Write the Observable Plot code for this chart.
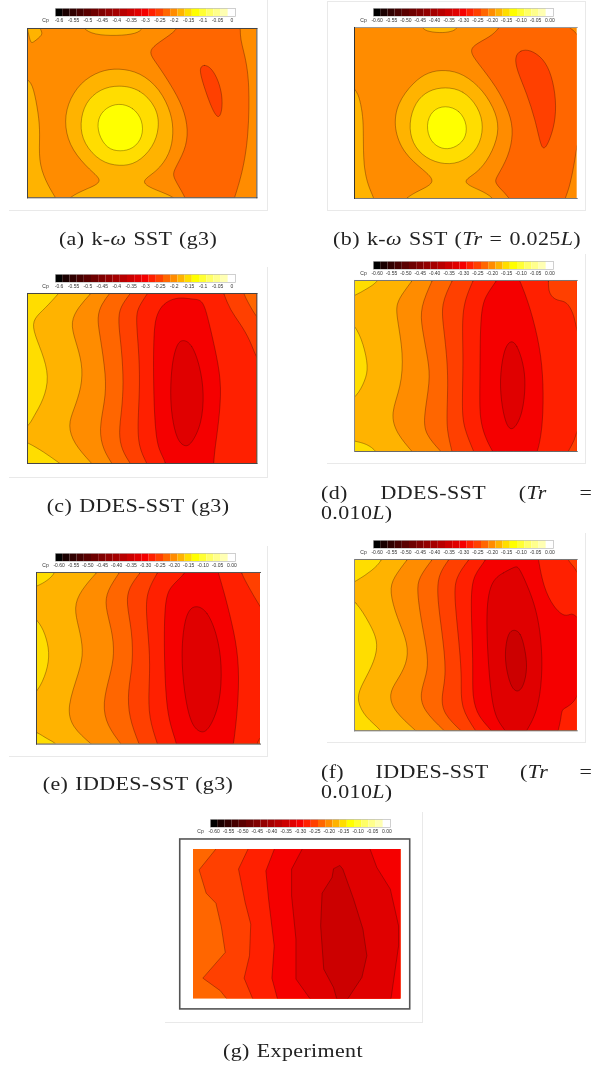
<!DOCTYPE html>
<html><head><meta charset="utf-8">
<script src="https://cdn.jsdelivr.net/npm/d3@7"></script>
<script src="https://cdn.jsdelivr.net/npm/@observablehq/plot@0.6"></script>
<style>
html,body{margin:0;padding:0;background:#fff}
#page{position:relative;width:597px;height:1066px;overflow:hidden}
.box{position:absolute;box-sizing:border-box;border:0 solid #e9e9e9}
.cap{position:absolute;font-family:"Liberation Serif",serif;font-size:18px;letter-spacing:.3px;word-spacing:1px;color:#222;white-space:nowrap;line-height:20px;filter:blur(.3px)}
.just{display:flex;justify-content:space-between}
svg{filter:blur(.3px)}
</style></head><body><div id="page"></div>
<script>
// Cp levels of the colour bar, and their colours
const levels=[-0.6,-0.575,-0.55,-0.525,-0.5,-0.475,-0.45,-0.425,-0.4,-0.375,-0.35,-0.325,-0.3,-0.275,-0.25,-0.225,-0.2,-0.175,-0.15,-0.125,-0.1,-0.075,-0.05,-0.025,0];
const palette=["#000000","#1a0000","#300000","#450000","#5a0000","#6e0000","#800000","#930000","#a50000","#b80000","#cc0000","#e00000","#f50000","#ff2000","#ff4000","#ff6600","#ff8c00","#ffb300","#ffdd00","#ffff00","#ffff33","#ffff66","#ffff8c","#ffffb3","#ffffff"];
const ticksShort=["-0.6","-0.55","-0.5","-0.45","-0.4","-0.35","-0.3","-0.25","-0.2","-0.15","-0.1","-0.05","0"];
const ticksLong=["-0.60","-0.55","-0.50","-0.45","-0.40","-0.35","-0.30","-0.25","-0.20","-0.15","-0.10","-0.05","0.00"];

// contours: [Cp, [[x%,y%],...]] — x and y are percent of the plotted surface; points outside 0..100 close a region beyond the edge
const ext=(a,b)=>[2*a[0]-b[0],2*a[1]-b[1]];
const right=pts=>[ext(pts[0],pts[1]),...pts,ext(pts[pts.length-1],pts[pts.length-2]),[115,125],[115,-25]];

const panelA=[
[-0.225,[[66.5,-6],[65.8,0],[60.8,5.1],[54.2,11],[53.2,15],[56.4,20.8],[62.2,32.6],[68,46.5],[70.2,60.3],[68.8,72],[63.7,83.9],[63.3,87.8],[68.8,99.2],[70,106],[89,106],[90.3,99.6],[91.3,95.7],[94.2,82],[96.4,62.2],[96.8,32.7],[95,16.4],[92,3.1],[94,-6]]],
[-0.25,[[75.3,22.8],[77,21.3],[79.7,22.8],[82.6,28.7],[84.7,37.6],[85,46.5],[84,52],[82.6,52.4],[80.4,47.4],[77.5,36.6],[75.3,26.8]]],
[-0.175,[[15,106],[17.9,99.6],[25.9,94.7],[33.5,90.4],[27.3,83.9],[19.3,72],[16,58.3],[17.2,44.5],[23,31.7],[31.7,24.8],[39.7,23.4],[49.1,25.8],[57.8,35.6],[62.9,50.4],[63.7,62.2],[62.2,74],[56.4,84.8],[48.3,90.7],[56.4,95.7],[64.4,99.6],[68,106]]],
[-0.15,[[39.7,33.3],[49.1,35.6],[56.4,46.5],[57.6,58.3],[54.9,70.1],[47.7,79.9],[40.1,81.5],[31.7,78.9],[24.4,68.1],[22.7,56.3],[25.1,43.5],[31.7,35.6]]],
[-0.125,[[39.7,43.9],[46.2,46.5],[50.3,54.3],[50.3,64.2],[46.2,71.1],[40.4,72.8],[34.6,71.1],[30.7,62.2],[30.5,53.3],[33.9,46.9]]],
[-0.175,[[-6,25],[0.5,30],[2.6,34.6],[4.8,50.4],[5.5,62.2],[4.8,78],[7.7,89.8],[12,99.6],[15,106],[-6,106]]],
[-0.175,[[4,-6],[5.5,0.2],[6.7,3.1],[5,5.5],[2.6,8.1],[1.5,8.7],[0.7,5],[-1,-6]]],
[-0.175,[[22,-6],[24.1,0],[28.8,3.7],[39,4.4],[47.7,3.1],[50.3,0],[52,-6]]]
];
const panelB=[
[-0.225,[[67,-6],[65.1,0.5],[60.9,5.5],[53.4,10.3],[51.9,14.2],[54.9,20],[63.9,34.7],[69.9,50.3],[71.4,62],[69.2,75.6],[63.9,87.3],[62.9,90.3],[65.4,94.2],[69.5,99.4],[72,106],[93,106],[94.9,99],[96.8,92.2],[99,77.6],[100.5,63],[106,50],[106,-6]]],
[-0.25,[[71.9,17.2],[74.4,13.2],[78.9,12.9],[84.9,18.1],[88.6,27.9],[90.6,42.5],[90.1,56.1],[87.1,67.8],[84.9,71.7],[83.4,67.8],[81.2,54.2],[77.4,38.6],[72.9,25]]],
[-0.175,[[20,106],[23,99.4],[29.5,95.1],[37,90.3],[31,83.4],[22,73.7],[17.5,59],[19,44.4],[26.5,31.8],[33.2,25.9],[40.7,24.6],[48.9,26.9],[57.9,36.6],[63.9,50.3],[65,62],[60.9,75.6],[55,85.4],[47.3,90.3],[56.5,95.1],[62.4,99.4],[65,106]]],
[-0.15,[[40.7,34.7],[48.9,36.6],[55.7,46.4],[58.2,58.1],[55.7,70.8],[48.9,78.6],[40.7,80.5],[31.7,76.6],[25.8,67.8],[24.3,56.1],[27.2,43.5],[33.2,36.6]]],
[-0.125,[[40.7,45.4],[47.4,48.3],[50.8,57.1],[49.7,65.9],[44.5,70.8],[39.2,71.3],[34,66.9],[32,57.1],[34.7,48.3]]],
[-0.175,[[-6,30],[0.7,35.7],[2.5,42.5],[3.8,52],[4,62],[4,81.5],[6.3,93.2],[8.5,99],[10,106],[-6,106]]],
[-0.175,[[28,-6],[30.2,0.6],[33.2,2.5],[40,3.3],[44.5,2],[46,0.6],[48,-6]]]
];
const panelC=[
[-0.175,right([[13.5,0],[7.7,8.8],[2.6,14.7],[2.3,21.6],[6.3,34.3],[9.6,49],[7,62.7],[2.6,72.5],[0.6,78],[-5,83],[-5,85],[0.3,87.8],[7,93.1],[13.5,99.4]])],
[-0.2,right([[27.3,0.4],[22.3,7.8],[18.6,16.7],[20.8,27.5],[24,41.2],[23.7,54.9],[20.1,68.6],[17.6,77.5],[20.1,88.2],[27.3,99]])],
[-0.225,right([[35.8,0],[32.4,5.9],[30.2,13.7],[31.7,25.5],[34.3,49],[33.9,62.7],[31,80.4],[33.1,92.2],[36.8,100]])],
[-0.25,right([[44.8,0],[40.4,7.8],[39.4,15.7],[41.1,33.3],[41.9,52.9],[41.1,68.6],[39.7,82.4],[41.1,92.2],[44.8,100]])],
[-0.275,right([[52.3,0],[48.4,7.8],[47.2,13.7],[48.4,31.4],[49.1,52.9],[48,76.5],[48.4,90.2],[52,100]])],
[-0.3,[[60,106],[60.8,100],[57.1,92.2],[55.7,80.4],[54.9,56.9],[54.9,21.6],[56.4,11.8],[59.3,5.9],[63.7,2.9],[68,2.4],[72.4,3.5],[76.5,3.5],[78.9,15.7],[82.6,37.3],[84.7,54.9],[83.3,76.5],[81.8,90.2],[81.1,100],[81,106]]],
[-0.325,[[67.7,26.9],[71.7,29.4],[75.3,43.1],[77,58.8],[76,76.5],[71.7,88.2],[68.8,90.6],[65.1,86.3],[62.9,72.5],[62.2,58.8],[62.9,41.2],[65.1,29.4]]],
[-0.25,[[83.5,-8],[85.5,0],[88.4,9.8],[92.7,17.6],[97.1,27.5],[100,39.2],[106,50],[120,50],[120,-8]]],
[-0.225,[[92,-8],[94.2,0],[96.4,5.9],[99.7,13.7],[106,24],[120,24],[120,-8]]]
];
const panelD=[
[-0.15,[[12,-6],[11.1,0.4],[5.5,4.9],[0.3,8.8],[-6,12],[-6,-6]]],
[-0.15,[[-6,20],[0.3,25.7],[4,37],[6.3,50.7],[4.8,58.5],[1,68.2],[-6,74]]],
[-0.15,[[-6,92],[0.3,94],[5.5,95.5],[10,99.8],[12,106],[-6,106]]],
[-0.2,right([[25.7,0.4],[22,6.8],[18.7,13.6],[19,21.4],[22,42.9],[21,62.4],[16,78],[19,89.7],[25.7,99.8]])],
[-0.225,right([[34.7,0.6],[29.5,15.8],[30.2,27.5],[33.2,47],[34,58.7],[31,80.1],[31.7,89.9],[38.5,99.6]])],
[-0.25,right([[43.7,0.6],[38.8,13.8],[40,27.5],[42.2,52.8],[41.5,76.2],[41.5,87.9],[43.7,99.6]])],
[-0.275,right([[53.1,0.6],[47.9,15.8],[49,43.1],[48.2,74.3],[49,86],[53.4,99.6]])],
[-0.3,[[66,-6],[63.9,0.4],[58.7,8.8],[56.4,19.7],[56.4,58.7],[56,80.1],[58.7,91.8],[61.7,99.4],[65,106],[80,106],[82.6,99.4],[84.6,83.8],[84.9,60.4],[83.4,39],[78.9,15.6],[74.4,0.4],[72,-6]]],
[-0.325,[[69.9,34.7],[72.9,37],[75.9,48.7],[76.9,60.4],[75.6,78],[71.4,88.1],[68.4,85.8],[66.2,74.1],[65.1,58.5],[66.9,40.9]]],
[-0.25,[[87,-6],[87.1,0.4],[87.1,7.8],[90.9,12.1],[95.4,11.7],[99.1,21.4],[100,33.1],[106,40],[106,-6]]],
[-0.25,[[106,80],[100,85.8],[99,93.6],[95.8,99.8],[94,106],[106,106]]]
];
const panelE=[
[-0.15,[[9,-6],[8.5,0.4],[4.7,4.9],[0.6,7.8],[-6,11],[-6,-6]]],
[-0.15,[[-6,22],[0.6,27.2],[4,36],[5.9,46.6],[4.8,57.3],[0.6,69.9],[-6,76]]],
[-0.15,[[-6,90],[0.6,93.2],[4.8,97.1],[9.2,99.6],[11,106],[-6,106]]],
[-0.2,right([[26.6,0.4],[19.6,10.7],[16.6,20.4],[18.9,32],[21.1,45.6],[19.3,57.3],[13.4,78.6],[15.9,90.3],[24.1,99.6]])],
[-0.225,right([[36.8,0.4],[31.5,10.7],[30.5,19.4],[33.8,34],[34.8,47.6],[33,59.2],[29.3,76.7],[31.5,89.3],[37.5,99.6]])],
[-0.25,right([[46.1,0.4],[41.2,8.7],[40,17.5],[42.7,34],[43.1,53.4],[40.7,68.9],[41.2,84.5],[45.7,99.6]])],
[-0.275,right([[53.9,0.4],[49.4,10.7],[48.7,22.3],[50.9,49.5],[50.1,68.9],[50.1,84.5],[53.9,99.6]])],
[-0.3,[[68,-6],[66.5,1],[59.8,7.8],[57,16.5],[57,53.4],[58.3,84.5],[62.4,98],[63,106],[87,106],[88.1,99.6],[90.3,73.3],[90.3,49.5],[87.4,30],[83.6,10.7],[81.3,1],[80,-6]]],
[-0.325,[[71.4,19],[76.3,22.3],[80.6,35.9],[82.9,53.4],[82.1,76.7],[76.9,92.2],[73.2,93.8],[68.7,88.3],[65.8,68.9],[64.6,47.6],[65.8,30],[68,21.4]]],
[-0.25,[[90,-6],[91.4,0.4],[94.8,8.7],[100,20.4],[106,32],[106,-6]]],
[-0.25,[[106,92],[100,95],[98.5,99.6],[97,106],[106,106]]]
];
const panelF=[
[-0.15,[[13,-6],[12.7,0.4],[7.8,6.6],[1,12.5],[-6,17],[-6,-6]]],
[-0.15,[[-6,19],[0.7,24.1],[7,37.7],[11.2,49.4],[7.8,63],[2.5,74.7],[1,82.5],[4.8,92.2],[12.3,99.6],[14,106],[-6,106]]],
[-0.2,right([[23.5,0.4],[17.5,10.5],[15.6,18.3],[19,33.9],[24.3,49.4],[23.5,61.1],[19,70.8],[15.3,78.6],[17.5,88.3],[27.2,99.6]])],
[-0.225,right([[34.7,0.4],[28.8,10.5],[28,18.3],[30.2,37.7],[33.2,57.2],[32.5,66.9],[29.2,78.6],[31,88.3],[40,99.6]])],
[-0.25,right([[42.2,0.4],[37.7,8.6],[37,20.2],[39.2,41.6],[41.5,66.9],[38.8,80.5],[40,90.3],[47.5,99.6]])],
[-0.275,right([[51.2,0.4],[45.2,10.5],[44.8,22.2],[47.2,51.4],[48.2,70.8],[47.5,86.4],[54.2,99.6]])],
[-0.3,[[60,-6],[59.4,0.4],[53.4,8.6],[52,22.2],[53.4,61.1],[52.7,80.5],[55.7,92.2],[61.7,99.6],[64,106],[90,106],[91.6,99.6],[92.8,92.2],[93.1,87.4],[95.4,86.4],[99.1,82.5],[100,78.6],[106,70],[106,40],[100,33.9],[97.6,30.9],[94.6,33.9],[89.4,28],[84.9,16.3],[82.6,0.4],[82,-6]]],
[-0.25,[[95,-6],[95.4,0.4],[99.1,4.7],[100,8.6],[106,14],[106,-6]]],
[-0.325,[[72.2,4.1],[66.9,7.6],[61,12.5],[58.7,31.9],[61,80.5],[64,94.2],[67.7,99.4],[70,106],[75,106],[77.4,99.4],[82.6,88.3],[84.9,61.1],[82.6,31.9],[77.4,14.4],[73.7,4.1]]],
[-0.35,[[71.6,40.7],[74.6,42.6],[76.4,51.4],[77.8,63],[75.9,74.7],[72.9,78],[69.9,73.7],[67.7,61.1],[67.7,51.4],[69.1,42.6]]]
];
const panelG=[
[-0.25,right([[10.6,0],[2.7,13.6],[6.1,29.2],[10.8,35.9],[13.4,51.4],[15.3,68.8],[4.5,86],[12.9,94.4],[16.1,100]])],
[-0.275,right([[26.2,0],[21.7,13.1],[24.9,35.4],[27.6,49.9],[27,71],[24.4,86],[28.6,100]])],
[-0.3,right([[38.9,0],[34.9,14.3],[36.2,33.2],[38.9,64.4],[37.8,86],[40.5,100]])],
[-0.325,[[52.3,-6],[52.3,0],[47.3,13.1],[47.3,31],[49.4,59.9],[49.4,86.6],[56.3,100],[56.3,106],[95.2,106],[95.2,100],[98.9,64.4],[98.9,51],[94.9,26.5],[88.4,12],[85.2,0],[85.2,-6]]],
[-0.35,[[70.7,10.9],[72,13.1],[77.2,33.2],[81.7,53.2],[83.6,71],[81.2,85.5],[74.3,100],[74.3,106],[69.1,106],[69.1,100],[67.5,92.2],[62.8,80],[61.3,51],[62,29.2],[66.8,18.7],[67.5,13.1]]]
];

// page layout (separate from the data)
const smooth="basis-closed";
const panels=[
 {regions:panelA,base:-0.2,f:[27.3,28,256.7,197.3],bar:[55.3,7.7],ticks:ticksShort,box:[9,-1,268,211,"rb"],edges:{top:"#444",bottom:"#444",left:"#444",right:"#444"},curve:smooth},
 {regions:panelB,base:-0.2,f:[354.3,27.3,577,198.3],bar:[373,7.7],ticks:ticksLong,box:[327,1,585.7,211,"tlrb"],edges:{top:"#999",bottom:"#777",left:"#333"},curve:smooth},
 {regions:panelC,base:-0.15,f:[27.3,293.3,256.7,463.3],bar:[55.3,274],ticks:ticksShort,box:[9,267,268,477.7,"rb"],edges:{top:"#444",bottom:"#444",left:"#444",right:"#444"},curve:smooth},
 {regions:panelD,base:-0.175,f:[354.3,280,577,451],bar:[373,260.7],ticks:ticksLong,box:[327,254,585.7,464,"rb"],edges:{top:"#777",bottom:"#666",left:"#888"},dash:"7 1",curve:smooth},
 {regions:panelE,base:-0.175,f:[36,571.7,260,743.3],bar:[55.3,552.7],ticks:ticksLong,box:[9,546,268,756.7,"rb"],edges:{top:"#555",bottom:"#555",left:"#444"},curve:smooth},
 {regions:panelF,base:-0.175,f:[354.3,558.7,577,730],bar:[373,539.7],ticks:ticksLong,box:[327,533,585.7,743.3,"rb"],edges:{top:"#777",bottom:"#666",left:"#888"},dash:"7 1",curve:smooth},
 {regions:panelG,base:-0.225,f:[193.3,848.7,400.7,998.3],bar:[210.3,818.7],ticks:ticksLong,box:[165,812,423.3,1022.7,"rb"],edges:{},outer:true,curve:"linear-closed"}
];
const capStretch=1.22;
const captions=[
 {cx:138,y:239,html:"(a) k-<i>ω</i> SST (g3)"},
 {cx:456.5,y:239,html:"(b) k-<i>ω</i> SST (<i>Tr</i> = 0.025<i>L</i>)"},
 {cx:138,y:505.7,html:"(c) DDES-SST (g3)"},
 {just:["(d)","DDES-SST","(<i>Tr</i>","="],x0:320.7,x1:592,y:493,second:"0.010<i>L</i>)"},
 {cx:138,y:784.3,html:"(e) IDDES-SST (g3)"},
 {just:["(f)","IDDES-SST","(<i>Tr</i>","="],x0:320.7,x1:592,y:771.7,second:"0.010<i>L</i>)"},
 {cx:293,y:1050.7,html:"(g) Experiment"}
];

const color={type:"ordinal",domain:levels,range:palette};
const page=document.getElementById("page");
const place=(el,x,y)=>{el.style.position="absolute";el.style.left=x+"px";el.style.top=y+"px";page.appendChild(el);};

panels.forEach((p)=>{
  // surrounding light box
  const [l,t,r,b,sides]=p.box;
  const box=document.createElement("div");box.className="box";
  box.style.cssText+=`left:${l}px;top:${t}px;width:${r-l}px;height:${b-t}px;`;
  if(sides.includes("t"))box.style.borderTopWidth="1px";
  if(sides.includes("l"))box.style.borderLeftWidth="1px";
  if(sides.includes("r"))box.style.borderRightWidth="1px";
  if(sides.includes("b"))box.style.borderBottomWidth="1px";
  page.appendChild(box);

  // contour surface
  const rows=p.regions.flatMap(([cp,pts],i)=>pts.map(([x,y])=>({x,y,cp,id:i})));
  const [x0,y0,x1,y1]=p.f;
  const m=p.outer?16:2;
  const marks=[
    Plot.rect([p.base],{x1:()=>0,x2:()=>100,y1:()=>0,y2:()=>100,fill:d=>d}),
    Plot.line(rows,{x:"x",y:"y",z:"id",fill:"cp",stroke:"#2a0a00",strokeOpacity:0.55,strokeWidth:0.6,curve:p.curve,clip:true})
  ];
  for(const [anchor,stroke] of Object.entries(p.edges))
    marks.push(Plot.frame({anchor,stroke,strokeWidth:1,strokeDasharray:(p.dash&&anchor!=="left")?p.dash:null}));
  if(p.outer) marks.push(Plot.rect([0],{x1:()=>-6.4,x2:()=>104.5,y1:()=>-6.7,y2:()=>106.9,fill:"none",stroke:"#555",strokeWidth:1.6}));
  const svg=Plot.plot({width:x1-x0+2*m,height:y1-y0+2*m,marginTop:m,marginBottom:m,marginLeft:m,marginRight:m,
    x:{domain:[0,100],axis:null},y:{domain:[100,0],axis:null},color,marks});
  place(svg,x0-m,y0-m);

  // colour bar
  const pad=22;
  const bar=Plot.plot({width:180+2*pad,height:8+10,marginTop:0,marginBottom:10,marginLeft:pad,marginRight:pad,
    x:{type:"band",domain:levels,padding:0,round:false,axis:null},y:{axis:null},color,
    style:{fontFamily:"Liberation Sans",color:"#333"},
    marks:[
      Plot.cell(levels,{x:d=>d,fill:d=>d}),
      Plot.frame({stroke:"#bbb",strokeWidth:0.7}),
      Plot.axisX(levels.filter((d,i)=>i%2===0),{anchor:"bottom",tickSize:0,tickPadding:1.5,fontSize:5,tickFormat:(d)=>p.ticks[levels.indexOf(d)/2]}),
      Plot.text(["Cp"],{frameAnchor:"bottom-left",dx:-10,dy:4,fontSize:5,textAnchor:"middle",lineAnchor:"middle"})
    ]});
  place(bar,p.bar[0]-pad,p.bar[1]);
});

captions.forEach(c=>{
  const d=document.createElement("div");d.className="cap";
  if(c.just){
    d.classList.add("just");
    d.style.cssText+=`left:${c.x0}px;width:${(c.x1-c.x0)/capStretch}px;top:${c.y-10}px;transform-origin:left center;transform:scaleX(${capStretch});`;
    d.innerHTML=c.just.map(s=>`<span>${s}</span>`).join("");
    page.appendChild(d);
    const e=document.createElement("div");e.className="cap";
    e.style.cssText+=`left:${c.x0}px;top:${c.y+10}px;transform-origin:left center;transform:scaleX(${capStretch});`;
    e.innerHTML=c.second;page.appendChild(e);
  } else {
    d.style.cssText+=`left:${c.cx}px;top:${c.y-10}px;transform:translateX(-50%) scaleX(${capStretch});`;
    d.innerHTML=c.html;page.appendChild(d);
  }
});
</script></body></html>
